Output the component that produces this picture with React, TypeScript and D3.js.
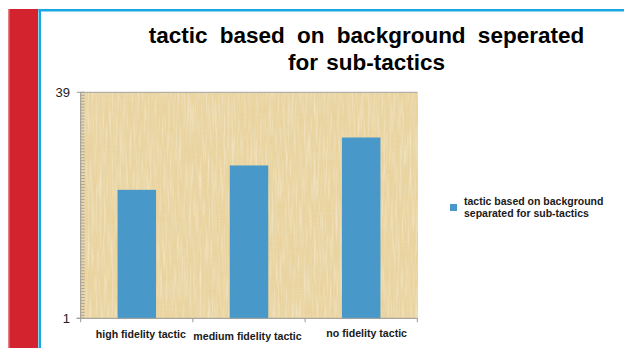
import React from "react";
import * as d3 from "d3";

// Chart data
const categories = ["high fidelity tactic", "medium fidelity tactic", "no fidelity tactic"];
const values = [22.6, 26.7, 31.4];
const seriesName = ["tactic based on background", "separated for sub-tactics"];
const titleLines = ["tactic based on background seperated", "for sub-tactics"];
const yTickValues = [1, 39];

const W = 624;
const H = 348;

const plot = { left: 80.7, right: 417.3, top: 92.3, bottom: 318.3 };

export default function App() {
  const x = d3
    .scaleBand<string>()
    .domain(categories)
    .range([plot.left, plot.right])
    .paddingInner(0.657)
    .paddingOuter(0.657 / 2);
  const step = x.step();
  const halfGap = (step * 0.657) / 2;

  const y = d3.scaleLinear().domain([1, 39]).range([plot.bottom, plot.top]);
  const minorTicks = d3.range(1, 39.001, 0.5);

  const boundaries = categories.map((c) => (x(c) as number) - halfGap);
  boundaries.push(plot.right);

  const labelDy = [0, 2, -1];
  const labelDx = [4, -1.5, 5.5];

  return (
    <svg
      width={W}
      height={H}
      style={{ position: "absolute", left: 0, top: 0, background: "#fff" }}
      fontFamily="'Liberation Sans', Arial, sans-serif"
    >
      <defs>
        <filter id="papyrus" x="0" y="0" width="100%" height="100%">
          <feFlood floodColor="#ead29c" result="base" />
          <feTurbulence type="fractalNoise" baseFrequency="0.7 0.02" numOctaves="2" seed="3" result="vn" />
          <feColorMatrix
            in="vn"
            type="matrix"
            values="0 0 0 0 0.80
                    0 0 0 0 0.67
                    0 0 0 0 0.38
                    1.6 0 0 0 -0.62"
            result="vfib"
          />
          <feTurbulence type="fractalNoise" baseFrequency="0.02 0.7" numOctaves="2" seed="11" result="hn" />
          <feColorMatrix
            in="hn"
            type="matrix"
            values="0 0 0 0 0.82
                    0 0 0 0 0.70
                    0 0 0 0 0.42
                    1.5 0 0 0 -0.6"
            result="hfib"
          />
          <feTurbulence type="fractalNoise" baseFrequency="0.5 0.03" numOctaves="2" seed="21" result="ln" />
          <feColorMatrix
            in="ln"
            type="matrix"
            values="0 0 0 0 0.96
                    0 0 0 0 0.90
                    0 0 0 0 0.74
                    1.4 0 0 0 -0.6"
            result="light"
          />
          <feComposite in="light" in2="base" operator="over" result="b1" />
          <feComposite in="vfib" in2="b1" operator="over" result="b2" />
          <feComposite in="hfib" in2="b2" operator="over" />
        </filter>
      </defs>

      {/* page frame */}
      <rect x={8} y={9} width={30} height={H - 9} fill="#d3232f" />
      <rect x={8} y={9} width={1.5} height={H - 9} fill="#e57f86" />
      <rect x={38.5} y={9} width={2.5} height={H - 9} fill="#19a6e2" />
      <rect x={38.5} y={9} width={W - 38.5} height={2.5} fill="#19a6e2" />

      {/* title */}
      <g fontWeight="bold" fontSize={22.5} fill="#000" textAnchor="middle">
        <text x={366.5} y={43} wordSpacing={6}>
          {titleLines[0]}
        </text>
        <text x={366.5} y={69.5} wordSpacing={2}>
          {titleLines[1]}
        </text>
      </g>

      {/* plot background */}
      <rect
        x={plot.left}
        y={plot.top}
        width={plot.right - plot.left}
        height={plot.bottom - plot.top}
        fill="#ead29c"
        filter="url(#papyrus)"
      />

      {/* bars */}
      {categories.map((c, i) => (
        <rect
          key={c}
          x={x(c)}
          y={y(values[i])}
          width={x.bandwidth()}
          height={y(1) - y(values[i])}
          fill="#4899c9"
        />
      ))}

      {/* y axis */}
      <line x1={plot.left} x2={plot.right} y1={plot.top} y2={plot.top} stroke="#a6a6a6" strokeWidth={1} />
      <line x1={plot.left} x2={plot.left} y1={plot.top} y2={plot.bottom} stroke="#9a9a9a" strokeWidth={1} />
      {minorTicks.map((t) => (
        <line key={t} x1={plot.left} x2={plot.left + 4} y1={y(t)} y2={y(t)} stroke="#9a9a9a" strokeWidth={0.8} />
      ))}
      {yTickValues.map((t) => (
        <g key={t}>
          <line x1={plot.left - 4} x2={plot.left} y1={y(t)} y2={y(t)} stroke="#9a9a9a" />
          <text x={70} y={y(t) + 4.5} fontSize={13} textAnchor="end" fill="#222">
            {t}
          </text>
        </g>
      ))}

      {/* x axis */}
      <line x1={plot.left - 4} x2={plot.right} y1={plot.bottom} y2={plot.bottom} stroke="#9a9a9a" />
      {boundaries.map((b, i) => (
        <line key={i} x1={b} x2={b} y1={plot.bottom} y2={plot.bottom + 4} stroke="#9a9a9a" />
      ))}
      {categories.map((c, i) => (
        <text
          key={c}
          x={(x(c) as number) + x.bandwidth() / 2 + labelDx[i]}
          y={338 + labelDy[i]}
          fontSize={10.6}
          fontWeight="bold"
          textAnchor="middle"
          fill="#1a1a1a"
        >
          {c}
        </text>
      ))}

      {/* legend */}
      <rect x={450} y={204} width={7} height={7} fill="#4899c9" />
      <g fontSize={10.5} fontWeight="bold" fill="#1a1a1a">
        {seriesName.map((s, i) => (
          <text key={i} x={464} y={205 + i * 12}>
            {s}
          </text>
        ))}
      </g>
    </svg>
  );
}
